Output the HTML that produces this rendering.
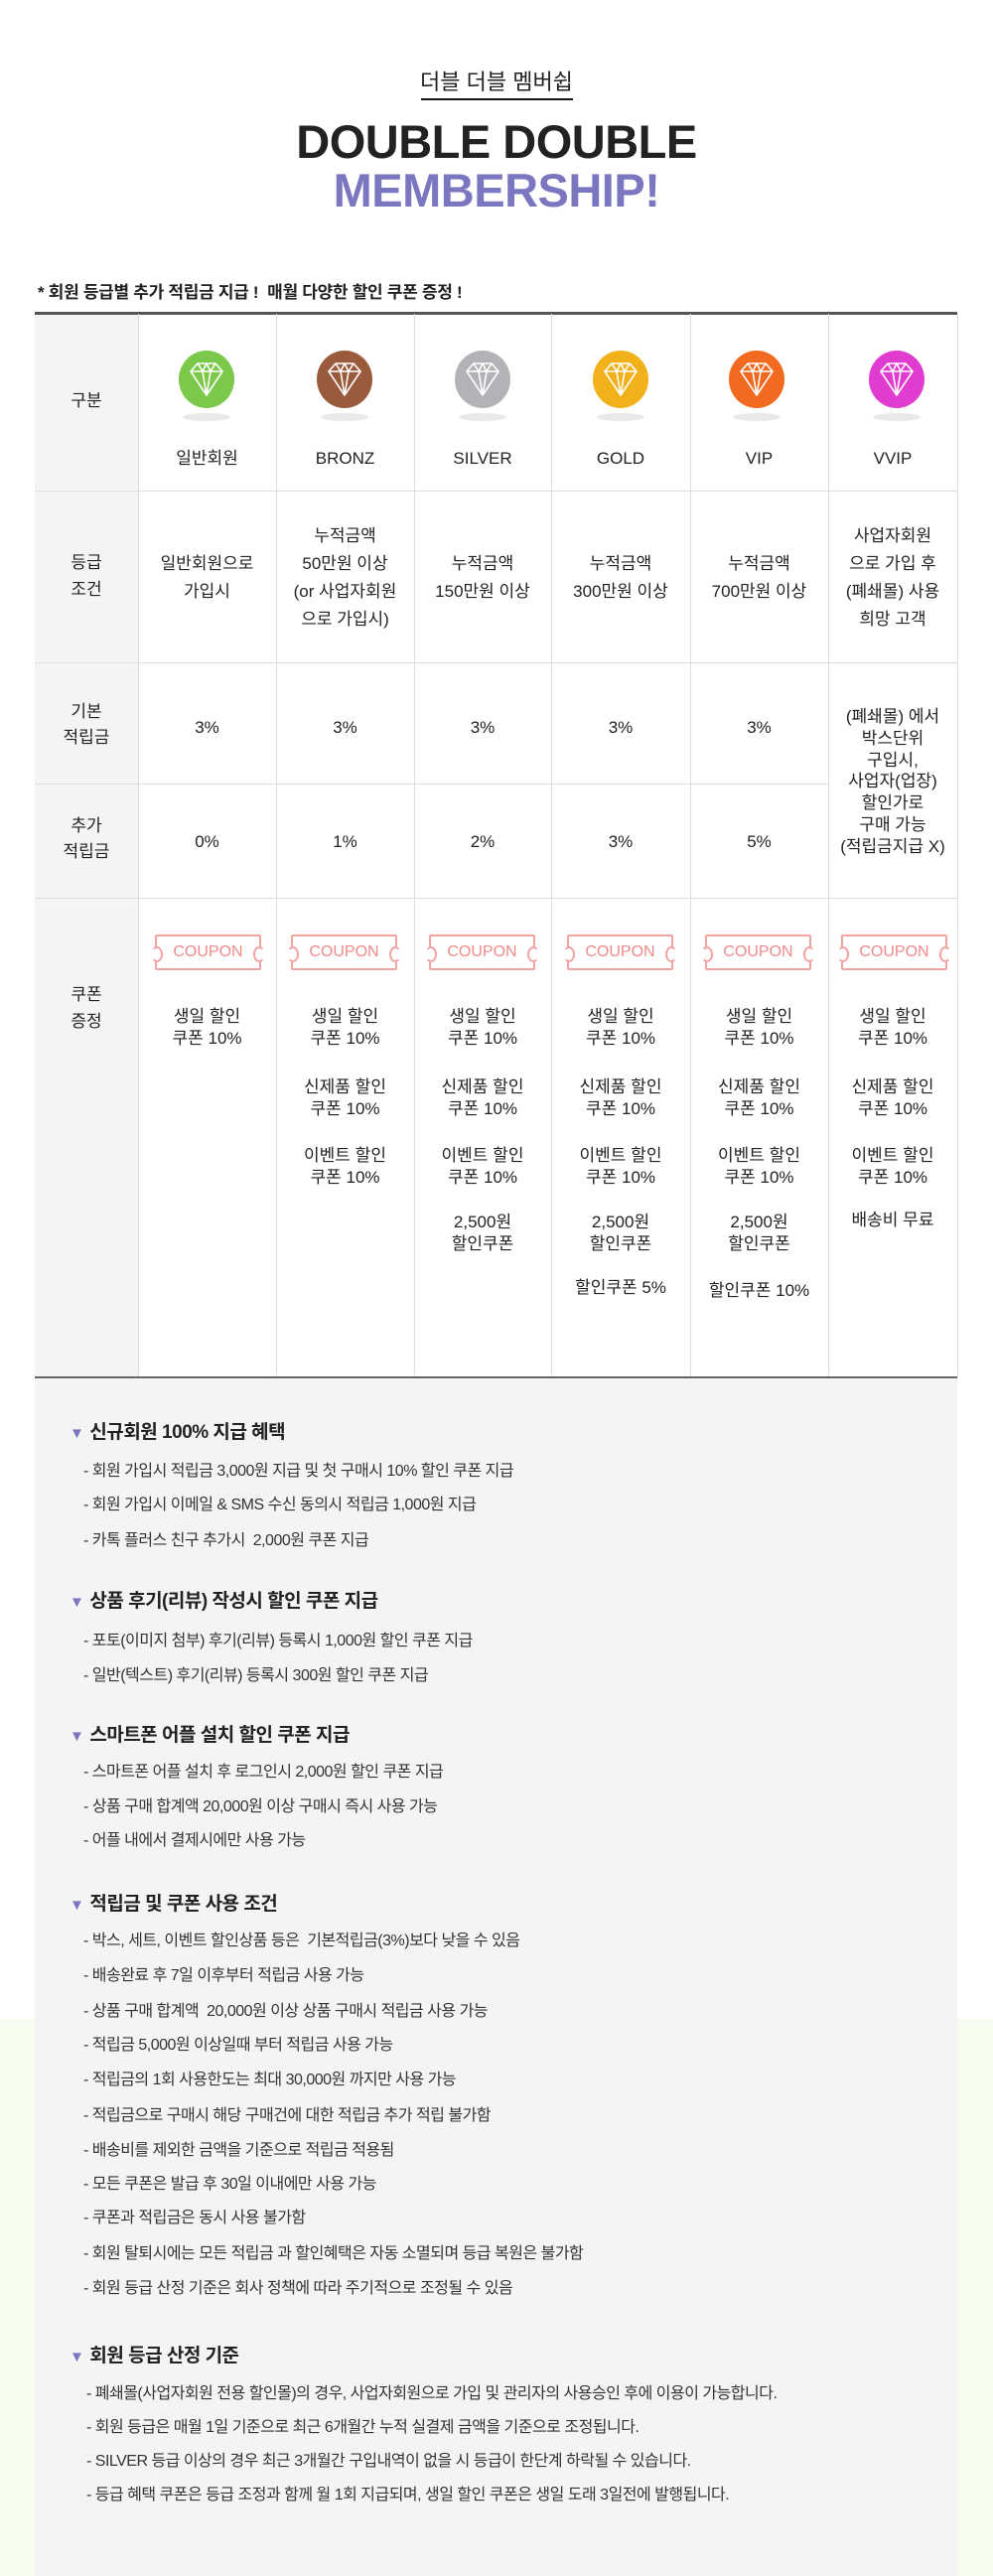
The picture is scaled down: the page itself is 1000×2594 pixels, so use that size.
<!DOCTYPE html>
<html><head><meta charset="utf-8"><style>
*{margin:0;padding:0;box-sizing:border-box}
body{width:1000px;height:2594px;position:relative;background:#fff;font-family:"Liberation Sans","Noto Sans CJK KR",sans-serif;color:#222;overflow:hidden}
.a{position:absolute}
.c{position:absolute;text-align:center;font-size:17px;white-space:nowrap}
.vl{position:absolute;top:316px;height:1071px;width:1px;background:#ddd}
.hl{position:absolute;height:1px;background:#ddd}
.cp{position:absolute;top:941px;width:107px;height:36px;border:2px solid #f4a3a3;border-radius:2px;color:#f08a8a;font-size:16px;text-align:center;line-height:32px;background:#fff}
.cp:before,.cp:after{content:"";position:absolute;top:10px;width:8px;height:12px;border:2px solid #f4a3a3;border-radius:50%;background:#fff}
.cp:before{left:-6px;border-left-color:transparent}
.cp:after{right:-6px;border-right-color:transparent}
.h{position:absolute;left:70px;font-size:19px;font-weight:bold;white-space:nowrap;letter-spacing:-0.5px}
.h span{color:#7b76c0;font-size:15px;margin-right:6px}
.i{position:absolute;left:84px;font-size:16px;white-space:nowrap;letter-spacing:-0.5px;color:#333}
</style></head><body>
<div class="a" style="left:0;top:2033px;width:1000px;height:561px;background:#f6fdee"></div>
<div class="a" style="left:35px;top:316px;width:929px;height:2278px;background:#f5f4f5"></div>
<div class="a" style="left:139px;top:316px;width:825px;height:1071px;background:#fff"></div>

<div class="c" style="left:0;width:1000px;top:68px;font-size:22px;line-height:30px">더블 더블 멤버쉽</div>
<div class="a" style="left:424px;top:99px;width:153px;height:2px;background:#111"></div>
<div class="c" style="left:0;width:1000px;top:114px;font-size:47px;font-weight:900;line-height:58px;color:#222;letter-spacing:-0.5px">DOUBLE DOUBLE</div>
<div class="c" style="left:0;width:1000px;top:163px;font-size:47px;font-weight:900;line-height:58px;color:#7b76c0;letter-spacing:-0.5px">MEMBERSHIP!</div>

<div class="a" style="left:38px;top:283px;font-size:17px;font-weight:bold;line-height:24px;white-space:nowrap;letter-spacing:-0.3px">* 회원 등급별 추가 적립금 지급 !&nbsp; 매월 다양한 할인 쿠폰 증정 !</div>
<div class="a" style="left:35px;top:314px;width:929px;height:3px;background:#555"></div>

<div class="vl" style="left:139px"></div><div class="vl" style="left:278px"></div><div class="vl" style="left:417px"></div><div class="vl" style="left:555px"></div><div class="vl" style="left:695px"></div><div class="vl" style="left:834px"></div><div class="vl" style="left:964px"></div>
<div class="hl" style="left:35px;width:929px;top:494px"></div>
<div class="hl" style="left:35px;width:929px;top:667px"></div>
<div class="hl" style="left:35px;width:799px;top:789px"></div>
<div class="hl" style="left:35px;width:929px;top:904px"></div>
<div class="a" style="left:35px;top:1386px;width:929px;height:2px;background:#666"></div>

<!-- row 1 -->
<div class="c" style="left:35px;width:104px;top:392px;line-height:24px">구분</div>
<svg class="a" style="left:139px;top:350px" width="825" height="80">
<defs><g id="d"><path d="M-16,-8 L-9,-16 L9,-16 L16,-8 L0,16 Z M-16,-8 L16,-8 M-9,-16 L-4,-8 L0,-16 L4,-8 L9,-16 M-4,-8 L0,16 L4,-8" fill="none" stroke="#fff" stroke-width="1.6" stroke-linejoin="round"/></g></defs>
<g transform="translate(69,32)"><ellipse cx="0" cy="0" rx="28" ry="29" fill="#7cc84a"/><use href="#d"/><ellipse cx="0" cy="38" rx="24" ry="4" fill="#e9e9e9"/></g>
<g transform="translate(208,32)"><ellipse cx="0" cy="0" rx="28" ry="29" fill="#9a5a3c"/><use href="#d"/><ellipse cx="0" cy="38" rx="24" ry="4" fill="#e9e9e9"/></g>
<g transform="translate(347,32)"><ellipse cx="0" cy="0" rx="28" ry="29" fill="#b3b3b7"/><use href="#d"/><ellipse cx="0" cy="38" rx="24" ry="4" fill="#e9e9e9"/></g>
<g transform="translate(486,32)"><ellipse cx="0" cy="0" rx="28" ry="29" fill="#f1b11b"/><use href="#d"/><ellipse cx="0" cy="38" rx="24" ry="4" fill="#e9e9e9"/></g>
<g transform="translate(623,32)"><ellipse cx="0" cy="0" rx="28" ry="29" fill="#f26a1f"/><use href="#d"/><ellipse cx="0" cy="38" rx="24" ry="4" fill="#e9e9e9"/></g>
<g transform="translate(764,32)"><ellipse cx="0" cy="0" rx="28" ry="29" fill="#e03ccf"/><use href="#d"/><ellipse cx="0" cy="38" rx="24" ry="4" fill="#e9e9e9"/></g>
</svg>
<div class="c" style="left:139px;width:139px;top:450px;line-height:24px">일반회원</div>
<div class="c" style="left:278px;width:139px;top:450px;line-height:24px">BRONZ</div>
<div class="c" style="left:417px;width:138px;top:450px;line-height:24px">SILVER</div>
<div class="c" style="left:555px;width:140px;top:450px;line-height:24px">GOLD</div>
<div class="c" style="left:695px;width:139px;top:450px;line-height:24px">VIP</div>
<div class="c" style="left:834px;width:130px;top:450px;line-height:24px">VVIP</div>

<!-- row 2 -->
<div class="c" style="left:35px;width:104px;top:553px;line-height:27px">등급<br>조건</div>
<div class="c" style="left:139px;width:139px;top:554px;line-height:28px">일반회원으로<br>가입시</div>
<div class="c" style="left:278px;width:139px;top:526px;line-height:28px">누적금액<br>50만원 이상<br>(or 사업자회원<br>으로 가입시)</div>
<div class="c" style="left:417px;width:138px;top:554px;line-height:28px">누적금액<br>150만원 이상</div>
<div class="c" style="left:555px;width:140px;top:554px;line-height:28px">누적금액<br>300만원 이상</div>
<div class="c" style="left:695px;width:139px;top:554px;line-height:28px">누적금액<br>700만원 이상</div>
<div class="c" style="left:834px;width:130px;top:526px;line-height:28px">사업자회원<br>으로 가입 후<br>(폐쇄몰) 사용<br>희망 고객</div>

<!-- row 3/4 -->
<div class="c" style="left:35px;width:104px;top:704px;line-height:26px">기본<br>적립금</div>
<div class="c" style="left:35px;width:104px;top:819px;line-height:26px">추가<br>적립금</div>
<div class="c" style="left:139px;width:139px;top:721px;line-height:24px">3%</div>
<div class="c" style="left:278px;width:139px;top:721px;line-height:24px">3%</div>
<div class="c" style="left:417px;width:138px;top:721px;line-height:24px">3%</div>
<div class="c" style="left:555px;width:140px;top:721px;line-height:24px">3%</div>
<div class="c" style="left:695px;width:139px;top:721px;line-height:24px">3%</div>
<div class="c" style="left:139px;width:139px;top:836px;line-height:24px">0%</div>
<div class="c" style="left:278px;width:139px;top:836px;line-height:24px">1%</div>
<div class="c" style="left:417px;width:138px;top:836px;line-height:24px">2%</div>
<div class="c" style="left:555px;width:140px;top:836px;line-height:24px">3%</div>
<div class="c" style="left:695px;width:139px;top:836px;line-height:24px">5%</div>
<div class="c" style="left:834px;width:130px;top:711px;line-height:21.8px">(폐쇄몰) 에서<br>박스단위<br>구입시,<br>사업자(업장)<br>할인가로<br>구매 가능<br>(적립금지급 X)</div>

<!-- coupons -->
<div class="c" style="left:35px;width:104px;top:988px;line-height:27px">쿠폰<br>증정</div>
<div class="cp" style="left:156px">COUPON</div>
<div class="cp" style="left:293px">COUPON</div>
<div class="cp" style="left:432px">COUPON</div>
<div class="cp" style="left:571px">COUPON</div>
<div class="cp" style="left:710px">COUPON</div>
<div class="cp" style="left:847px">COUPON</div>

<div class="c" style="left:139px;width:139px;top:1013px;line-height:22px">생일 할인<br>쿠폰 10%</div>

<div class="c" style="left:278px;width:139px;top:1013px;line-height:22px">생일 할인<br>쿠폰 10%</div>
<div class="c" style="left:278px;width:139px;top:1084px;line-height:22px">신제품 할인<br>쿠폰 10%</div>
<div class="c" style="left:278px;width:139px;top:1153px;line-height:22px">이벤트 할인<br>쿠폰 10%</div>

<div class="c" style="left:417px;width:138px;top:1013px;line-height:22px">생일 할인<br>쿠폰 10%</div>
<div class="c" style="left:417px;width:138px;top:1084px;line-height:22px">신제품 할인<br>쿠폰 10%</div>
<div class="c" style="left:417px;width:138px;top:1153px;line-height:22px">이벤트 할인<br>쿠폰 10%</div>
<div class="c" style="left:417px;width:138px;top:1220px;line-height:22px">2,500원<br>할인쿠폰</div>

<div class="c" style="left:555px;width:140px;top:1013px;line-height:22px">생일 할인<br>쿠폰 10%</div>
<div class="c" style="left:555px;width:140px;top:1084px;line-height:22px">신제품 할인<br>쿠폰 10%</div>
<div class="c" style="left:555px;width:140px;top:1153px;line-height:22px">이벤트 할인<br>쿠폰 10%</div>
<div class="c" style="left:555px;width:140px;top:1220px;line-height:22px">2,500원<br>할인쿠폰</div>
<div class="c" style="left:555px;width:140px;top:1286px;line-height:22px">할인쿠폰 5%</div>

<div class="c" style="left:695px;width:139px;top:1013px;line-height:22px">생일 할인<br>쿠폰 10%</div>
<div class="c" style="left:695px;width:139px;top:1084px;line-height:22px">신제품 할인<br>쿠폰 10%</div>
<div class="c" style="left:695px;width:139px;top:1153px;line-height:22px">이벤트 할인<br>쿠폰 10%</div>
<div class="c" style="left:695px;width:139px;top:1220px;line-height:22px">2,500원<br>할인쿠폰</div>
<div class="c" style="left:695px;width:139px;top:1289px;line-height:22px">할인쿠폰 10%</div>

<div class="c" style="left:834px;width:130px;top:1013px;line-height:22px">생일 할인<br>쿠폰 10%</div>
<div class="c" style="left:834px;width:130px;top:1084px;line-height:22px">신제품 할인<br>쿠폰 10%</div>
<div class="c" style="left:834px;width:130px;top:1153px;line-height:22px">이벤트 할인<br>쿠폰 10%</div>
<div class="c" style="left:834px;width:130px;top:1218px;line-height:22px">배송비 무료</div>

<!-- info -->
<div class="h" style="top:1430px;line-height:26px"><span>▼</span>신규회원 100% 지급 혜택</div>
<div class="i" style="top:1471px;line-height:22px">- 회원 가입시 적립금 3,000원 지급 및 첫 구매시 10% 할인 쿠폰 지급</div>
<div class="i" style="top:1505px;line-height:22px">- 회원 가입시 이메일 &amp; SMS 수신 동의시 적립금 1,000원 지급</div>
<div class="i" style="top:1541px;line-height:22px">- 카톡 플러스 친구 추가시&nbsp; 2,000원 쿠폰 지급</div>

<div class="h" style="top:1600px;line-height:26px"><span>▼</span>상품 후기(리뷰) 작성시 할인 쿠폰 지급</div>
<div class="i" style="top:1642px;line-height:22px">- 포토(이미지 첨부) 후기(리뷰) 등록시 1,000원 할인 쿠폰 지급</div>
<div class="i" style="top:1677px;line-height:22px">- 일반(텍스트) 후기(리뷰) 등록시 300원 할인 쿠폰 지급</div>

<div class="h" style="top:1735px;line-height:26px"><span>▼</span>스마트폰 어플 설치 할인 쿠폰 지급</div>
<div class="i" style="top:1774px;line-height:22px">- 스마트폰 어플 설치 후 로그인시 2,000원 할인 쿠폰 지급</div>
<div class="i" style="top:1809px;line-height:22px">- 상품 구매 합계액 20,000원 이상 구매시 즉시 사용 가능</div>
<div class="i" style="top:1843px;line-height:22px">- 어플 내에서 결제시에만 사용 가능</div>

<div class="h" style="top:1905px;line-height:26px"><span>▼</span>적립금 및 쿠폰 사용 조건</div>
<div class="i" style="top:1944px;line-height:22px">- 박스, 세트, 이벤트 할인상품 등은&nbsp; 기본적립금(3%)보다 낮을 수 있음</div>
<div class="i" style="top:1979px;line-height:22px">- 배송완료 후 7일 이후부터 적립금 사용 가능</div>
<div class="i" style="top:2015px;line-height:22px">- 상품 구매 합계액&nbsp; 20,000원 이상 상품 구매시 적립금 사용 가능</div>
<div class="i" style="top:2049px;line-height:22px">- 적립금 5,000원 이상일때 부터 적립금 사용 가능</div>
<div class="i" style="top:2084px;line-height:22px">- 적립금의 1회 사용한도는 최대 30,000원 까지만 사용 가능</div>
<div class="i" style="top:2120px;line-height:22px">- 적립금으로 구매시 해당 구매건에 대한 적립금 추가 적립 불가함</div>
<div class="i" style="top:2155px;line-height:22px">- 배송비를 제외한 금액을 기준으로 적립금 적용됨</div>
<div class="i" style="top:2189px;line-height:22px">- 모든 쿠폰은 발급 후 30일 이내에만 사용 가능</div>
<div class="i" style="top:2223px;line-height:22px">- 쿠폰과 적립금은 동시 사용 불가함</div>
<div class="i" style="top:2259px;line-height:22px">- 회원 탈퇴시에는 모든 적립금 과 할인혜택은 자동 소멸되며 등급 복원은 불가함</div>
<div class="i" style="top:2294px;line-height:22px">- 회원 등급 산정 기준은 회사 정책에 따라 주기적으로 조정될 수 있음</div>

<div class="h" style="top:2360px;line-height:26px"><span>▼</span>회원 등급 산정 기준</div>
<div class="i" style="left:87px;top:2400px;line-height:22px">- 폐쇄몰(사업자회원 전용 할인몰)의 경우, 사업자회원으로 가입 및 관리자의 사용승인 후에 이용이 가능합니다.</div>
<div class="i" style="left:87px;top:2434px;line-height:22px">- 회원 등급은 매월 1일 기준으로 최근 6개월간 누적 실결제 금액을 기준으로 조정됩니다.</div>
<div class="i" style="left:87px;top:2468px;line-height:22px">- SILVER 등급 이상의 경우 최근 3개월간 구입내역이 없을 시 등급이 한단계 하락될 수 있습니다.</div>
<div class="i" style="left:87px;top:2502px;line-height:22px">- 등급 혜택 쿠폰은 등급 조정과 함께 월 1회 지급되며, 생일 할인 쿠폰은 생일 도래 3일전에 발행됩니다.</div>
</body></html>
